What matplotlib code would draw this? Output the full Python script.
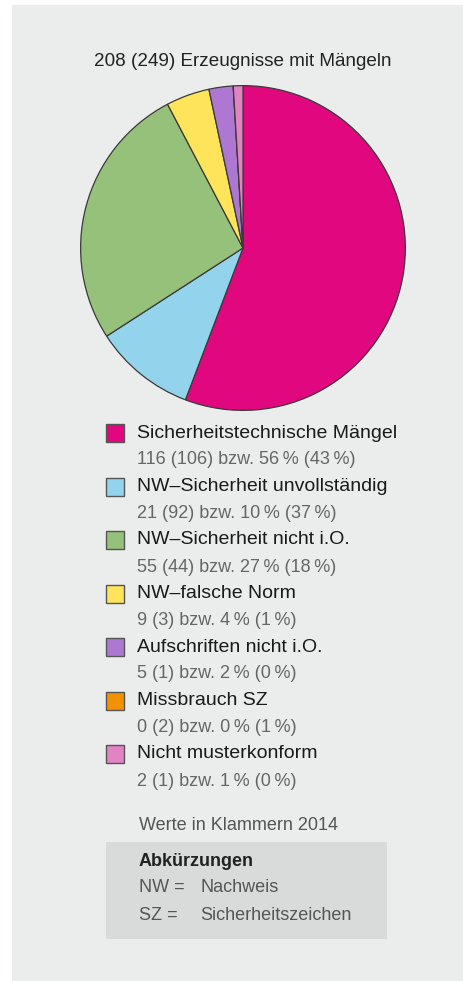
import matplotlib
matplotlib.use('Agg')
import matplotlib.pyplot as plt
from matplotlib.patches import Rectangle

plt.rcParams['font.family'] = ['Liberation Sans', 'DejaVu Sans']

# data
title = '208 (249) Erzeugnisse mit Mängeln'
categories = ['Sicherheitstechnische Mängel', 'NW–Sicherheit unvollständig',
              'NW–Sicherheit nicht i.O.', 'NW–falsche Norm',
              'Aufschriften nicht i.O.', 'Missbrauch SZ', 'Nicht musterkonform']
counts_2015 = [116, 21, 55, 9, 5, 0, 2]
counts_2014 = [106, 92, 44, 3, 1, 2, 1]
pct_2015 = [56, 10, 27, 4, 2, 0, 1]
pct_2014 = [43, 37, 18, 1, 0, 1, 0]
colors = ['#e0077f', '#94d3ec', '#95c17a', '#fde45a', '#ae78d2', '#f39200', '#e283c4']
note = 'Werte in Klammern 2014'
abbr_title = 'Abkürzungen'
abbr_keys = ['NW =', 'SZ =']
abbr_vals = ['Nachweis', 'Sicherheitszeichen']

W, H = 463, 981
fig = plt.figure(figsize=(W / 100, H / 100), dpi=100, facecolor='white')


def fx(px):
    return px / W


def fy(py):
    return 1 - py / H


# grey panel (behind the pie axes)
fig.patches.append(Rectangle((fx(12), 0), 1 - fx(12), fy(5), transform=fig.transFigure,
                             facecolor='#ebecec', edgecolor='none', zorder=-2))

fig.text(fx(243), fy(61), title, ha='center', va='center', fontsize=13.6, color='#222222')

# pie
cx, cy, r = 243, 248, 164
ax = fig.add_axes([fx(cx - r), fy(cy + r), 2 * r / W, 2 * r / H])
ax.pie(counts_2015, colors=colors, startangle=90, counterclock=False,
       wedgeprops=dict(edgecolor='#3a3a3a', linewidth=0.9))
ax.set_xlim(-1.01, 1.01)
ax.set_ylim(-1.01, 1.01)
ax.axis('off')

# legend
y0, step = 433, 53.5
for i, cat in enumerate(categories):
    y = y0 + i * step
    fig.patches.append(Rectangle((fx(106), fy(y + 9)), 18 / W, 18 / H, transform=fig.transFigure,
                                 facecolor=colors[i], edgecolor='#555555', linewidth=1.0, zorder=2))
    fig.text(fx(137), fy(y), cat, ha='left', va='center', fontsize=14, color='#1a1a1a')
    sub = f'{counts_2015[i]} ({counts_2014[i]}) bzw. {pct_2015[i]}\u2009% ({pct_2014[i]}\u2009%)'
    fig.text(fx(137), fy(y + 27), sub, ha='left', va='center', fontsize=13, color='#666666')

fig.text(fx(139), fy(825), note, ha='left', va='center', fontsize=13, color='#555555')

# abbreviations box
fig.patches.append(Rectangle((fx(106), fy(939)), (387 - 106) / W, (939 - 842) / H,
                             transform=fig.transFigure, facecolor='#d9dada', edgecolor='none', zorder=-1))
fig.text(fx(139), fy(862), abbr_title, ha='left', va='center', fontsize=13, color='#222222',
         fontweight='bold')
for j, (k, v) in enumerate(zip(abbr_keys, abbr_vals)):
    yy = 888 + j * 27
    fig.text(fx(139), fy(yy), k, ha='left', va='center', fontsize=13, color='#555555')
    fig.text(fx(200), fy(yy), v, ha='left', va='center', fontsize=13, color='#555555')

fig.savefig('out.png', dpi=100, facecolor='white')
